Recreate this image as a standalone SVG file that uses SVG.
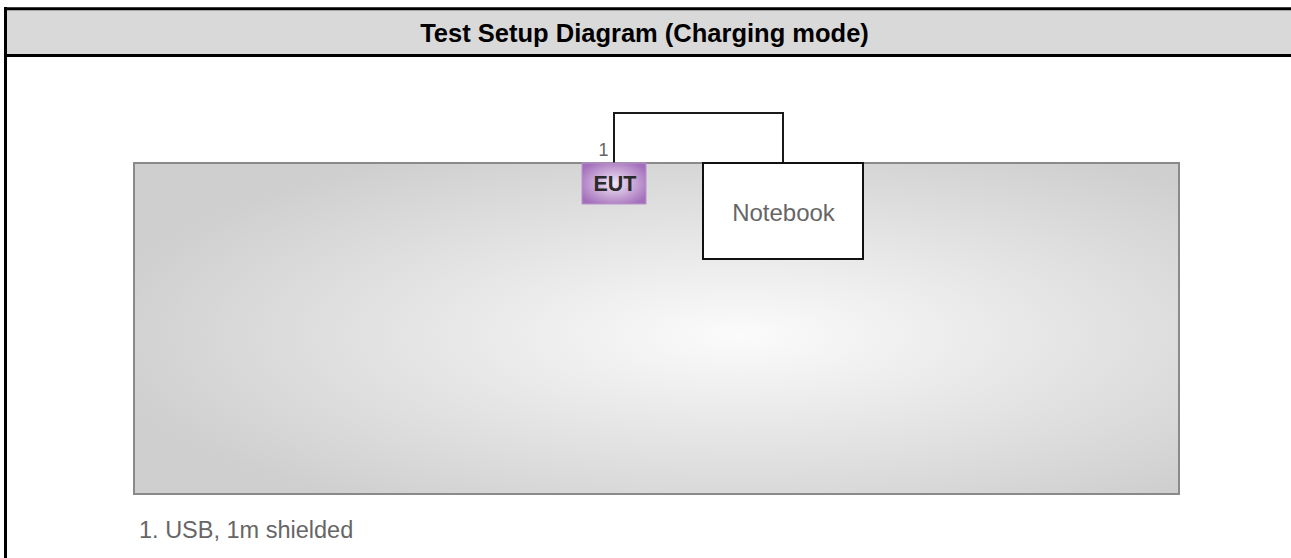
<svg xmlns="http://www.w3.org/2000/svg" width="1291" height="558" viewBox="0 0 1291 558">
<defs>
<radialGradient id="tableGrad" cx="0.58" cy="0.52" r="0.62" gradientUnits="objectBoundingBox">
<stop offset="0" stop-color="#fbfbfb"/>
<stop offset="1" stop-color="#cfcfcf"/>
</radialGradient>
<radialGradient id="eutGrad" cx="0.5" cy="0.5" r="0.6">
<stop offset="0" stop-color="#f2e6f5"/>
<stop offset="1" stop-color="#a36fbb"/>
</radialGradient>
<style>
.hdr{font-family:"Liberation Sans",Arial,sans-serif;font-weight:bold;font-size:25.5px;fill:#000}
.lbl{font-family:"Liberation Sans",Arial,sans-serif;fill:#666}
.conn{fill:none;stroke:#1a1a1a;stroke-width:2}
</style>
</defs>
<rect x="0" y="0" width="1291" height="558" fill="#fff"/>
<g id="frame">
<rect x="5" y="9" width="1286" height="46" fill="#d9d9d9"/>
<line x1="4" y1="8.7" x2="1291" y2="8.7" stroke="#000" stroke-width="3"/>
<line x1="4" y1="55.5" x2="1291" y2="55.5" stroke="#000" stroke-width="3"/>
<line x1="5.5" y1="7" x2="5.5" y2="558" stroke="#000" stroke-width="3"/>
<text class="hdr" x="644.5" y="41.5" text-anchor="middle">Test Setup Diagram (Charging mode)</text>
</g>
<g id="table">
<rect x="134" y="163" width="1045" height="331" fill="url(#tableGrad)" stroke="#8a8a8a" stroke-width="2"/>
</g>
<g id="connectors">
<polyline class="conn" points="614,163 614,113 783,113 783,163"/>
<text class="lbl" x="603.5" y="156" font-size="18" fill="#888" text-anchor="middle">1</text>
</g>
<g id="eut">
<rect x="582" y="163" width="64" height="41" fill="url(#eutGrad)" stroke="#b994cb" stroke-width="1"/>
<text x="615" y="191" font-family="'Liberation Sans',Arial,sans-serif" font-weight="bold" font-size="21.5" fill="#2a2a2a" text-anchor="middle">EUT</text>
</g>
<g id="notebook">
<rect x="703" y="163" width="160" height="96" fill="#fff" stroke="#111" stroke-width="2"/>
<text class="lbl" x="783.5" y="221" font-size="24" text-anchor="middle">Notebook</text>
</g>
<g id="note">
<text class="lbl" x="139" y="538" font-size="23.5" fill="#555">1. USB, 1m shielded</text>
</g>
</svg>
